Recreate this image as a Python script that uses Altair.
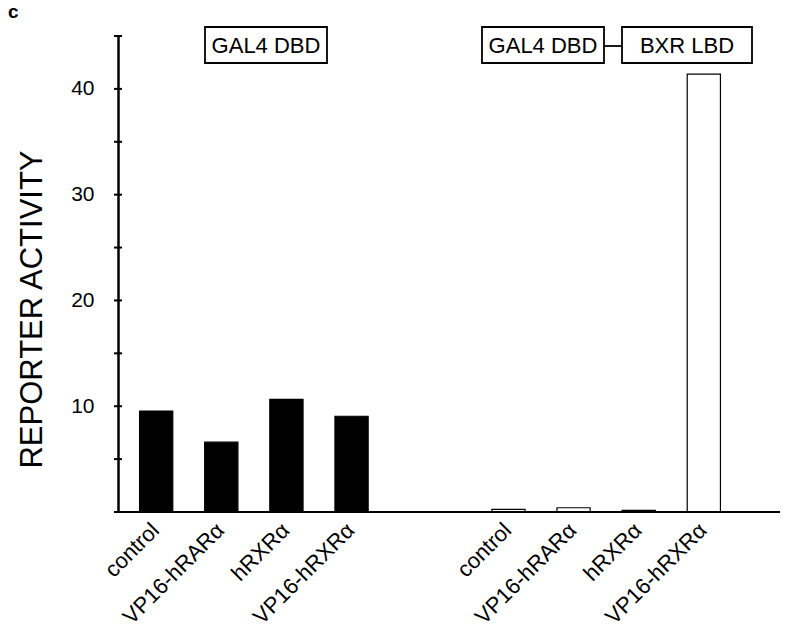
import altair as alt
import pandas as pd

# ---- data ----
groups = ["GAL4 DBD", "GAL4 DBD-BXR LBD"]
conditions = ["control", "VP16-hRARα", "hRXRα", "VP16-hRXRα"]
gal4_values = [9.55, 6.6, 10.65, 9.05]
bxr_values = [0.25, 0.4, 0.15, 41.4]
y_label_values = [10, 20, 30, 40]
y_tick_values = [0, 5, 10, 15, 20, 25, 30, 35, 40, 45]

rows = []
for g, vals in zip(groups, [gal4_values, bxr_values]):
    for c, v in zip(conditions, vals):
        rows.append({"group": g, "condition": c, "value": v})
df = pd.DataFrame(rows)
ticks_df = pd.DataFrame({"t": y_tick_values})

W, H = 662, 476
FONT = "Liberation Sans"

x_enc = alt.X("group:N", sort=groups, axis=None,
              scale=alt.Scale(range=[2, 622], paddingInner=0.34, paddingOuter=0.05))
xoff_enc = alt.XOffset("condition:N", sort=conditions,
                       scale=alt.Scale(paddingInner=0.49, paddingOuter=0.03))
y_scale = alt.Scale(domain=[0, 45], nice=False, zero=True)
y_axis = alt.Axis(values=y_label_values, ticks=False, grid=False,
                  domainColor="black", domainWidth=2.5,
                  labelFont=FONT, labelFontSize=21, labelColor="black",
                  labelPadding=24,
                  title="REPORTER ACTIVITY", titleFont=FONT,
                  titleFontSize=31, titleFontWeight="normal",
                  titleColor="black", titleAngle=270,
                  titleX=-86, titleY=273, titleAlign="center",
                  titleBaseline="middle")

bars = alt.Chart(df).mark_bar(stroke="black", strokeWidth=1.2).encode(
    x=x_enc,
    xOffset=xoff_enc,
    y=alt.Y("value:Q", scale=y_scale, axis=y_axis, title="REPORTER ACTIVITY"),
    color=alt.Color("group:N", scale=alt.Scale(domain=groups, range=["black", "white"]),
                    legend=None),
)

xlabels = alt.Chart(df).mark_text(
    angle=315, align="right", baseline="alphabetic", font=FONT, fontSize=22,
    color="black", dx=6,
).encode(
    x=x_enc,
    xOffset=xoff_enc,
    y=alt.value(H + 24),
    text="condition:N",
)

yticks = alt.Chart(ticks_df).mark_rule(color="black", strokeWidth=2).encode(
    y=alt.Y("t:Q", scale=y_scale, axis=y_axis, title="REPORTER ACTIVITY"),
    x=alt.value(-4),
    x2=alt.value(4),
)

baseline = alt.Chart(pd.DataFrame({"z": [0]})).mark_rule(color="black", strokeWidth=2.2).encode(
    y=alt.Y("z:Q", scale=y_scale, axis=y_axis, title="REPORTER ACTIVITY"),
    x=alt.value(0),
    x2=alt.value(W),
)

one = pd.DataFrame({"k": [0]})

def box(x1, x2):
    return alt.Chart(one).mark_rect(fill="white", stroke="black", strokeWidth=1.8).encode(
        x=alt.value(x1), x2=alt.value(x2), y=alt.value(-9), y2=alt.value(27))

def label(x, txt):
    return alt.Chart(one).mark_text(font=FONT, fontSize=22, color="black",
                                    align="center", baseline="middle").encode(
        x=alt.value(x), y=alt.value(10), text=alt.value(txt))

connector = alt.Chart(one).mark_rule(color="black", strokeWidth=1.8).encode(
    x=alt.value(486), x2=alt.value(504), y=alt.value(10))

panel = alt.Chart(one).mark_text(font=FONT, fontSize=19, fontWeight="bold",
                                 color="black", align="left",
                                 baseline="alphabetic").encode(
    x=alt.value(-110), y=alt.value(-18), text=alt.value("c"))

chart = alt.layer(
    bars, xlabels, yticks, baseline,
    box(87, 209), label(148, "GAL4 DBD"),
    connector,
    box(364, 486), label(425, "GAL4 DBD"),
    box(504, 634), label(569, "BXR LBD"),
    panel,
).properties(
    width=W, height=H,
    background="white",
    autosize=alt.AutoSizeParams(type="none"),
    padding={"left": 110, "top": 28, "right": 10, "bottom": 110},
).configure_view(stroke=None)

chart.save("out.html", embed_options={"renderer": "svg", "actions": False})
